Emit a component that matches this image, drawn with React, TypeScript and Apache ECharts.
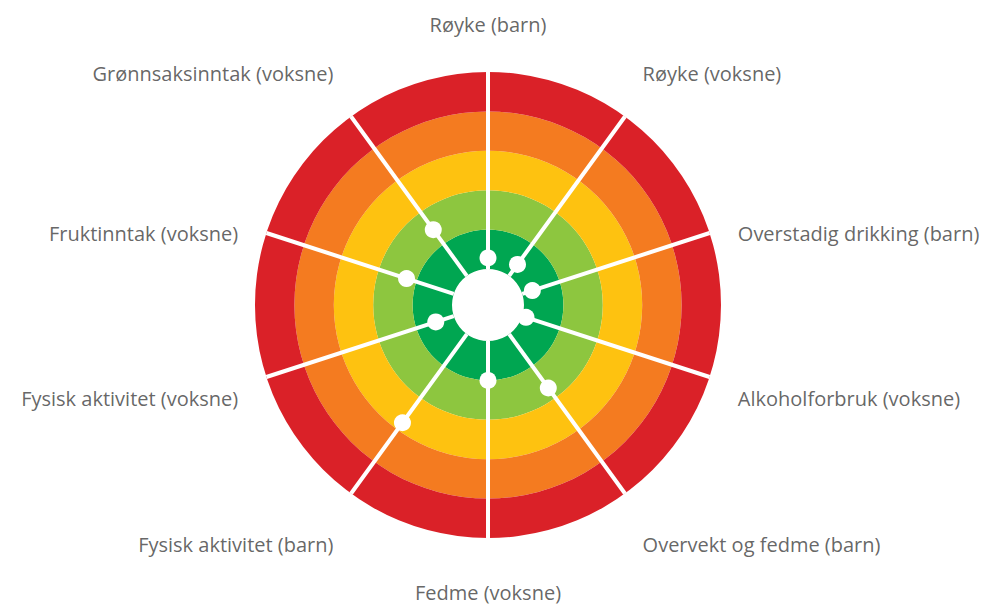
import React, { useEffect, useRef } from "react";
import * as echarts from "echarts";

// Axes (spokes), clockwise from the top
const CATEGORIES = [
  "Røyke (barn)",
  "Røyke (voksne)",
  "Overstadig drikking (barn)",
  "Alkoholforbruk (voksne)",
  "Overvekt og fedme (barn)",
  "Fedme (voksne)",
  "Fysisk aktivitet (barn)",
  "Fysisk aktivitet (voksne)",
  "Fruktinntak (voksne)",
  "Grønnsaksinntak (voksne)",
];

// Dot positions on the 0–5 zone scale (0 = inner edge, 5 = outer edge)
const VALUES = [0.28, 0.36, 0.27, 0.1, 1.69, 1.0, 2.78, 0.48, 1.26, 1.45];

// Concentric zones, inner to outer
const ZONES = ["1", "2", "3", "4", "5"];
const ZONE_SPAN = [360, 360, 360, 360, 360];
const ZONE_COLORS = ["#00a651", "#8dc63f", "#fec210", "#f47b20", "#da2128"];

// Layout (not data)
const CENTER = [488, 305];
const RADIUS = [36, 233];
const SCALE_MAX = 5;
const LABEL_R = 5.74;
const LABEL_NUDGE_Y = [-8, -19, 10, 12, 27, 15, 27, 12, 10, -19];

export default function App() {
  const ref = useRef<HTMLDivElement>(null);

  useEffect(() => {
    if (!ref.current) return;
    const chart = echarts.init(ref.current, null, { renderer: "svg" });

    const labelData = CATEGORIES.map((name, i) => {
      const a = (i * 360) / CATEGORIES.length;
      const s = Math.sin((a * Math.PI) / 180);
      const c = Math.cos((a * Math.PI) / 180);
      let position: string;
      if (Math.abs(s) < 0.1) position = c > 0 ? "top" : "bottom";
      else position = s > 0 ? "right" : "left";
      return {
        name,
        value: [LABEL_R, i],
        label: { position, distance: 0, offset: [0, LABEL_NUDGE_Y[i]] },
      };
    });

    chart.setOption({
      animation: false,
      backgroundColor: "#ffffff",
      polar: [
        { center: CENTER, radius: RADIUS },
        { center: CENTER, radius: RADIUS },
      ],
      angleAxis: [
        {
          polarIndex: 0,
          type: "value",
          min: 0,
          max: 360,
          startAngle: 90,
          show: false,
        },
        {
          polarIndex: 1,
          type: "category",
          data: CATEGORIES,
          boundaryGap: false,
          startAngle: 90,
          clockwise: true,
          z: 3,
          axisLine: { show: false },
          axisTick: { show: false, interval: 0 },
          axisLabel: { show: false, interval: 0 },
          splitLine: {
            show: true,
            interval: 0,
            lineStyle: { color: "#ffffff", width: 4 },
          },
        },
      ],
      radiusAxis: [
        { polarIndex: 0, type: "category", data: ZONES, show: false },
        {
          polarIndex: 1,
          type: "value",
          min: 0,
          max: SCALE_MAX,
          show: false,
          splitLine: { show: false },
        },
      ],
      series: [
        {
          type: "bar",
          coordinateSystem: "polar",
          polarIndex: 0,
          barCategoryGap: "0%",
          z: 1,
          silent: true,
          data: ZONE_SPAN.map((v, i) => ({
            value: v,
            itemStyle: { color: ZONE_COLORS[i] },
          })),
        },
        {
          type: "scatter",
          coordinateSystem: "polar",
          polarIndex: 1,
          symbolSize: 17,
          z: 4,
          itemStyle: { color: "#ffffff", opacity: 1 },
          data: VALUES.map((v, i) => [v, i]),
        },
        {
          type: "scatter",
          coordinateSystem: "polar",
          polarIndex: 1,
          symbolSize: 1,
          clip: false,
          silent: true,
          z: 5,
          itemStyle: { color: "rgba(0,0,0,0)" },
          label: {
            show: true,
            formatter: "{b}",
            color: "#3e3e3e",
            fontSize: 20,
            fontFamily: "Open Sans",
          },
          data: labelData,
        },
      ],
    });

    return () => chart.dispose();
  }, []);

  return (
    <div
      ref={ref}
      style={{ position: "fixed", left: 0, top: 0, width: 984, height: 606 }}
    />
  );
}
